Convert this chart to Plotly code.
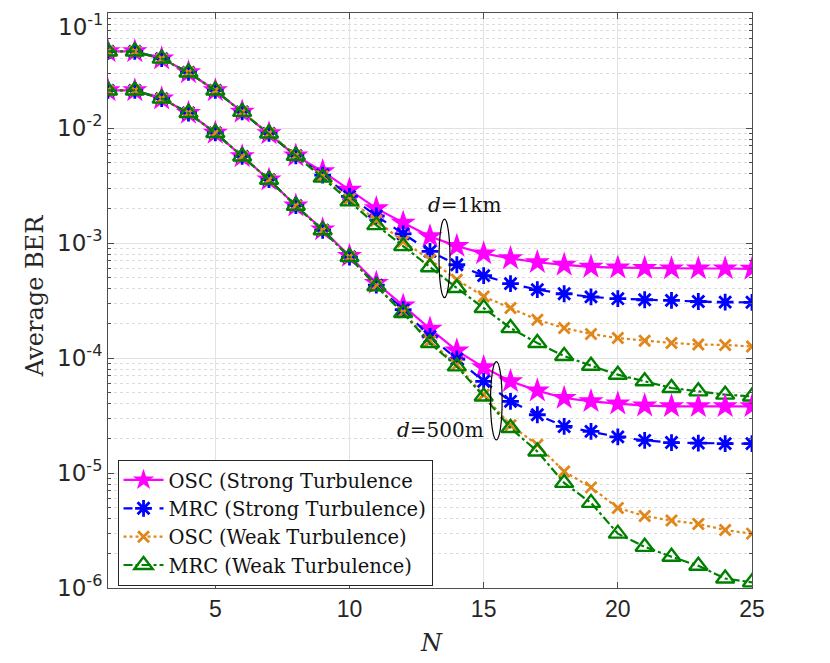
import plotly.graph_objects as go

N = list(range(1, 26))

# d = 1 km
osc_strong_1km = [0.0463, 0.0463, 0.0401, 0.0304, 0.0212, 0.0138, 0.00897, 0.00574,
                  0.0042, 0.0029, 0.0020, 0.0015, 0.00114, 0.00094, 0.00081, 0.000735,
                  0.00068, 0.000645, 0.00062, 0.00061, 0.000605, 0.0006, 0.0006, 0.0006, 0.000595]
mrc_strong_1km = [0.0463, 0.0463, 0.0401, 0.0304, 0.0212, 0.0138, 0.00897, 0.00574,
                  0.0039, 0.00254, 0.00172, 0.0012, 0.000845, 0.000647, 0.00052, 0.000443,
                  0.000393, 0.000362, 0.00034, 0.000328, 0.000321, 0.000317, 0.00031, 0.000306, 0.000305]
osc_weak_1km = [0.0463, 0.0463, 0.0401, 0.0304, 0.0212, 0.0138, 0.00897, 0.00574,
                0.0038, 0.0024, 0.00157, 0.00103, 0.000716, 0.00048, 0.000343, 0.000272,
                0.000215, 0.000182, 0.000162, 0.000149, 0.000141, 0.000135, 0.000131, 0.00013, 0.000126]
mrc_weak_1km = [0.0463, 0.0463, 0.0401, 0.0304, 0.0212, 0.0138, 0.00897, 0.00574,
                0.0037, 0.0023, 0.00143, 0.00094, 0.000615, 0.000406, 0.000272, 0.000182,
                0.000135, 0.000104, 8.57e-5, 7.16e-5, 6.27e-5, 5.48e-5, 5.13e-5, 4.8e-5, 4.63e-5]

# d = 500 m
osc_strong_500m = [0.0212, 0.0212, 0.0180, 0.0135, 0.00906, 0.00566, 0.00355, 0.00211,
                   0.00131, 0.00077, 0.000449, 0.000285, 0.000179, 0.000116, 8.3e-5, 6.27e-5,
                   5.2e-5, 4.49e-5, 4.2e-5, 4.01e-5, 3.85e-5, 3.8e-5, 3.8e-5, 3.8e-5, 3.8e-5]
mrc_strong_500m = [0.0212, 0.0212, 0.0180, 0.0135, 0.00906, 0.00566, 0.00355, 0.00211,
                   0.00129, 0.000755, 0.00043, 0.000263, 0.000154, 9.8e-5, 6.27e-5, 4.2e-5,
                   3.21e-5, 2.54e-5, 2.3e-5, 2.06e-5, 1.92e-5, 1.84e-5, 1.82e-5, 1.8e-5, 1.8e-5]
osc_weak_500m = [0.0212, 0.0212, 0.0180, 0.0135, 0.00906, 0.00566, 0.00355, 0.00211,
                 0.00129, 0.000755, 0.000425, 0.00025, 0.00014, 8.7e-5, 4.8e-5, 2.6e-5,
                 1.76e-5, 1.03e-5, 7.5e-6, 4.97e-6, 4.23e-6, 3.86e-6, 3.61e-6, 3.19e-6, 2.97e-6]
mrc_weak_500m = [0.0212, 0.0212, 0.0180, 0.0135, 0.00906, 0.00566, 0.00355, 0.00211,
                 0.00129, 0.000755, 0.00042, 0.000246, 0.000135, 8.45e-5, 4.63e-5, 2.46e-5,
                 1.54e-5, 8.2e-6, 5.5e-6, 2.97e-6, 2.28e-6, 1.87e-6, 1.56e-6, 1.21e-6, 1.12e-6]

names = ["OSC (Strong Turbulence", "MRC (Strong Turbulence)",
         "OSC (Weak Turbulence)", "MRC (Weak Turbulence)"]

# y tick values / labels (top decade label drawn separately so it is not clipped)
y_tickvals = [1e-6, 1e-5, 1e-4, 1e-3, 1e-2, 1e-1]
y_ticktext = ["10<sup>-6</sup>", "10<sup>-5</sup>", "10<sup>-4</sup>",
              "10<sup>-3</sup>", "10<sup>-2</sup>", ""]
y_top_label = "10<sup>-1</sup>"
x_tickvals = [5, 10, 15, 20, 25]

minor_vals = [k * d for d in y_tickvals[:-1] for k in range(2, 10)]

SERIF = "DejaVu Serif"
SANS = "Liberation Sans"
YSANS = "DejaVu Sans"

styles = [
    dict(color="#FF00FF", dash="solid", symbol="star", size=19, lw=0),
    dict(color="#0000FF", dash="dash", symbol="asterisk-open", size=14, lw=2.8),
    dict(color="#E0861A", dash="dot", symbol="x-thin-open", size=11, lw=2.8),
    dict(color="#008000", dash="dashdot", symbol="triangle-up-open", size=16, lw=2.4),
]

fig = go.Figure()
groups = [
    ([osc_strong_1km, mrc_strong_1km, osc_weak_1km, mrc_weak_1km], True),
    ([osc_strong_500m, mrc_strong_500m, osc_weak_500m, mrc_weak_500m], False),
]
for series, show in groups:
    for name, y, st in zip(names, series, styles):
        fig.add_trace(go.Scatter(
            x=N, y=y, mode="lines+markers", name=name, showlegend=show,
            legendgroup=name,
            line=dict(color=st["color"], dash=st["dash"], width=2.2),
            marker=dict(symbol=st["symbol"], size=st["size"], color=st["color"],
                        line=dict(color=st["color"], width=st["lw"])),
        ))

axis_col = "#4d4d4d"
fig.update_layout(
    width=822, height=655,
    margin=dict(l=100, r=78, t=5, b=75, autoexpand=False),
    paper_bgcolor="white", plot_bgcolor="white",
    showlegend=True,
    legend=dict(x=0.0148, y=0.223, xanchor="left", yanchor="top",
                bgcolor="white", bordercolor="#262626", borderwidth=1,
                font=dict(family=SERIF, size=19.5, color="#111111"),
                tracegroupgap=0, itemwidth=40),
    xaxis=dict(range=[1, 25], tickmode="array", tickvals=x_tickvals,
               showline=True, linecolor=axis_col, linewidth=1, mirror="ticks",
               ticks="inside", ticklen=6, tickcolor=axis_col,
               showgrid=True, gridcolor="#e3e3e3", gridwidth=1, zeroline=False,
               tickfont=dict(family=SANS, size=23, color="#262626")),
    yaxis=dict(type="log", range=[-6, -0.99999], tickmode="array",
               tickvals=y_tickvals, ticktext=y_ticktext,
               showline=True, linecolor=axis_col, linewidth=1, mirror="ticks",
               ticks="inside", ticklen=6, tickcolor=axis_col,
               showgrid=True, gridcolor="#e3e3e3", gridwidth=1, zeroline=False,
               tickfont=dict(family=YSANS, size=23, color="#262626"),
               minor=dict(tickmode="array", tickvals=minor_vals, ticks="inside",
                          ticklen=3, tickcolor=axis_col,
                          showgrid=True, gridcolor="#dcdcdc", griddash="dot")),
)

# top decade tick label
fig.add_annotation(x=0, y=1, xref="paper", yref="paper", text=y_top_label,
                   showarrow=False, xanchor="right", yanchor="top", xshift=-3, yshift=5,
                   font=dict(family=YSANS, size=23, color="#262626"))

# axis titles
fig.add_annotation(x=-0.113, y=0.508, xref="paper", yref="paper", text="Average BER",
                   textangle=-90, showarrow=False, xanchor="center", yanchor="middle",
                   font=dict(family=SERIF, size=24, color="#262626"))
fig.add_annotation(x=0.502, y=-0.0957, xref="paper", yref="paper", text="<i>N</i>",
                   showarrow=False, xanchor="center", yanchor="middle",
                   font=dict(family=SERIF, size=24, color="#262626"))

# distance labels and ellipses
fig.add_annotation(x=0.553, y=0.6664, xref="paper", yref="paper", text="<i>d</i>=1km",
                   showarrow=False, xanchor="center", yanchor="middle",
                   font=dict(family=SERIF, size=20, color="#111111"))
fig.add_annotation(x=0.516, y=0.275, xref="paper", yref="paper", text="<i>d</i>=500m",
                   showarrow=False, xanchor="center", yanchor="middle",
                   font=dict(family=SERIF, size=20, color="#111111"))
fig.add_shape(type="circle", xref="paper", yref="paper", x0=0.514, x1=0.531,
              y0=0.505, y1=0.6416, line=dict(color="black", width=1.2))
fig.add_shape(type="circle", xref="paper", yref="paper", x0=0.594, x1=0.612,
              y0=0.2575, y1=0.3938, line=dict(color="black", width=1.2))

fig.write_html("out.html")
